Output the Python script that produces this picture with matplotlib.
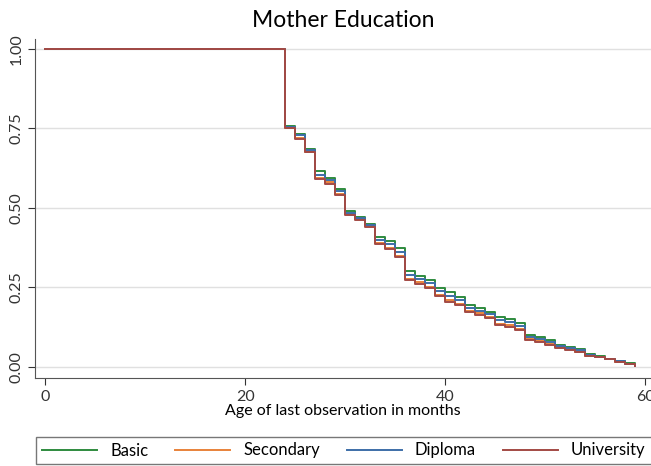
import matplotlib
matplotlib.use("Agg")
from matplotlib import pyplot as plt

plt.rcParams['font.family'] = ['Lato', 'DejaVu Sans']

# months at which the survival estimate changes
months = [0, 24, 25, 26, 27, 28, 29, 30, 31, 32, 33, 34, 35, 36, 37, 38, 39, 40,
          41, 42, 43, 44, 45, 46, 47, 48, 49, 50, 51, 52, 53, 54, 55, 56, 57, 58, 59]

basic = [1.0, 0.757, 0.733, 0.685, 0.615, 0.595, 0.560, 0.490, 0.472, 0.450, 0.410,
         0.395, 0.375, 0.300, 0.286, 0.272, 0.248, 0.236, 0.220, 0.195, 0.186, 0.173,
         0.157, 0.151, 0.138, 0.100, 0.094, 0.085, 0.069, 0.063, 0.057, 0.041, 0.034,
         0.026, 0.018, 0.011, 0.004]
secondary = [1.0, 0.752, 0.720, 0.677, 0.595, 0.580, 0.545, 0.480, 0.464, 0.442, 0.390,
             0.375, 0.350, 0.277, 0.266, 0.252, 0.227, 0.210, 0.199, 0.177, 0.168, 0.157,
             0.136, 0.130, 0.120, 0.088, 0.082, 0.072, 0.062, 0.055, 0.048, 0.035, 0.031,
             0.024, 0.016, 0.010, 0.003]
diploma = [1.0, 0.755, 0.728, 0.681, 0.605, 0.588, 0.552, 0.485, 0.468, 0.446, 0.400,
           0.385, 0.362, 0.290, 0.277, 0.263, 0.238, 0.222, 0.209, 0.186, 0.176, 0.165,
           0.147, 0.141, 0.128, 0.094, 0.088, 0.078, 0.065, 0.059, 0.052, 0.038, 0.032,
           0.025, 0.017, 0.010, 0.004]
university = [1.0, 0.750, 0.717, 0.675, 0.590, 0.575, 0.540, 0.478, 0.462, 0.440, 0.385,
              0.370, 0.345, 0.272, 0.262, 0.248, 0.222, 0.205, 0.195, 0.173, 0.164, 0.154,
              0.132, 0.126, 0.116, 0.085, 0.079, 0.069, 0.060, 0.053, 0.046, 0.033, 0.030,
              0.023, 0.015, 0.009, 0.003]

series = [('Basic', basic, '#2e8b3e'),
          ('Secondary', secondary, '#e8823a'),
          ('Diploma', diploma, '#3d6ea8'),
          ('University', university, '#a34a44')]

fig = plt.figure(figsize=(6.51, 4.66), dpi=100)
ax = fig.add_axes([0.054, 0.189, 0.946, 0.727])

for name, vals, col in series:
    ax.step(months, vals, where='post', color=col, lw=1.4, label=name)

ax.set_xlim(-1, 60.6)
ax.set_ylim(-0.035, 1.031)
ax.set_xticks([0, 20, 40, 60])
ax.set_yticks([0, 0.25, 0.5, 0.75, 1.0])
ax.set_yticklabels(['0.00', '0.25', '0.50', '0.75', '1.00'], rotation=90, va='center')
ax.yaxis.grid(True, color='#e0e0e0', lw=1)
ax.set_axisbelow(True)
for s in ['top', 'right']:
    ax.spines[s].set_visible(False)
for s in ['left', 'bottom']:
    ax.spines[s].set_color('#555555')
ax.tick_params(colors='#333333', labelsize=11.5, length=5, direction='out')
ax.tick_params(axis='x', pad=4)
ax.set_xlabel('Age of last observation in months', fontsize=11.5, labelpad=0)
ax.set_title('Mother Education', fontsize=16.5, pad=9)

leg = fig.legend(loc='lower center', bbox_to_anchor=(0.528, 0.0), ncol=4, fontsize=12,
                 frameon=True, fancybox=False, edgecolor='#555555', handlelength=3.3,
                 handletextpad=0.8, columnspacing=1.6, borderpad=0.35, borderaxespad=0.1)
leg.get_frame().set_linewidth(1)

fig.savefig('out.png', dpi=100)
